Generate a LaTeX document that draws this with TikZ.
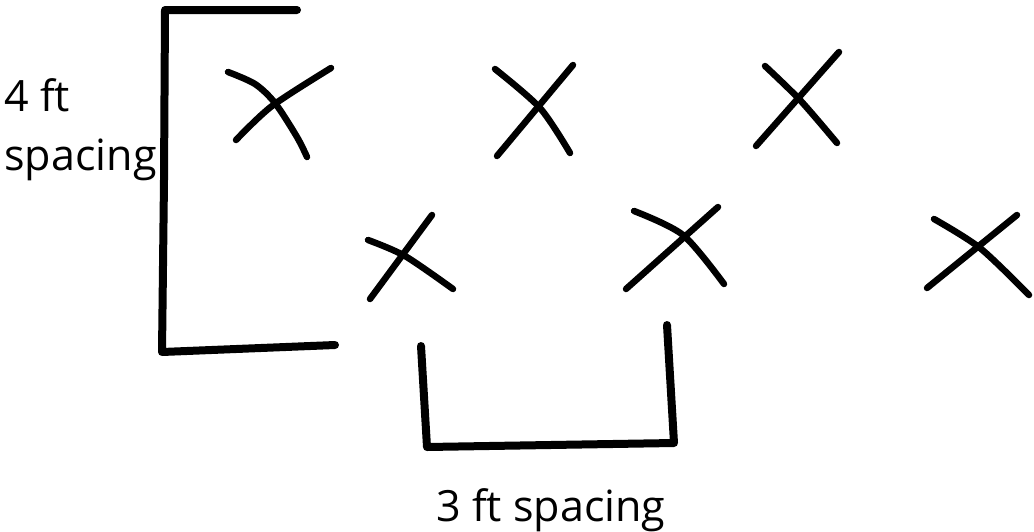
\documentclass[tikz,border=0pt]{standalone}
\usepackage{fontspec}
\setmainfont{Open Sans}
\usepackage{tikz}
\usetikzlibrary{positioning, calc}

\tikzset{
  pen/.style={line width=0.13cm, line cap=round, line join=round},
  bracket/.style={line width=0.16cm, line cap=round, line join=round},
  note/.style={font=\fontsize{24.5}{34}\selectfont, inner sep=0pt}
}

\begin{document}
\begin{tikzpicture}[x=0.02cm, y=-0.02cm]
  \useasboundingbox (0,0) rectangle (1034,531);

  % left bracket (row spacing)
  \draw[bracket] (297,10) -- (165,10) -- (164,180) -- (162,352) -- (335,345);
  % bottom bracket (plant spacing)
  \draw[bracket] (421,346) -- (427,447) -- (674,443) -- (667,325);

  % first row
  \draw[pen] plot[smooth] coordinates {(228,72) (255,84) (275,103) (297,137) (307,157)};
  \draw[pen] plot[smooth] coordinates {(236,140) (272,106) (331,68)};
  \draw[pen] plot[smooth] coordinates {(495,69) (540,108) (570,153)};
  \draw[pen] (497,156) -- (573,65);
  \draw[pen] plot[smooth] coordinates {(765,66) (800,100) (837,143)};
  \draw[pen] (756,146) -- (839,52);

  % second row
  \draw[pen] plot[smooth] coordinates {(368,240) (405,256) (453,289)};
  \draw[pen] (370,299) -- (432,215);
  \draw[pen] plot[smooth] coordinates {(634,211) (683,235) (724,284)};
  \draw[pen] (626,289) -- (718,207);
  \draw[pen] plot[smooth] coordinates {(934,219) (980,248) (1029,295)};
  \draw[pen] (927,288) -- (1017,215);

  % labels
  \node[note, anchor=base west] (rowft) at (4,111) {4 ft};
  \node[note, anchor=base west] (rowsp) at (4,170) {spacing};
  \node[note, anchor=base] (plantsp) at (551,521) {3 ft spacing};
\end{tikzpicture}
\end{document}
